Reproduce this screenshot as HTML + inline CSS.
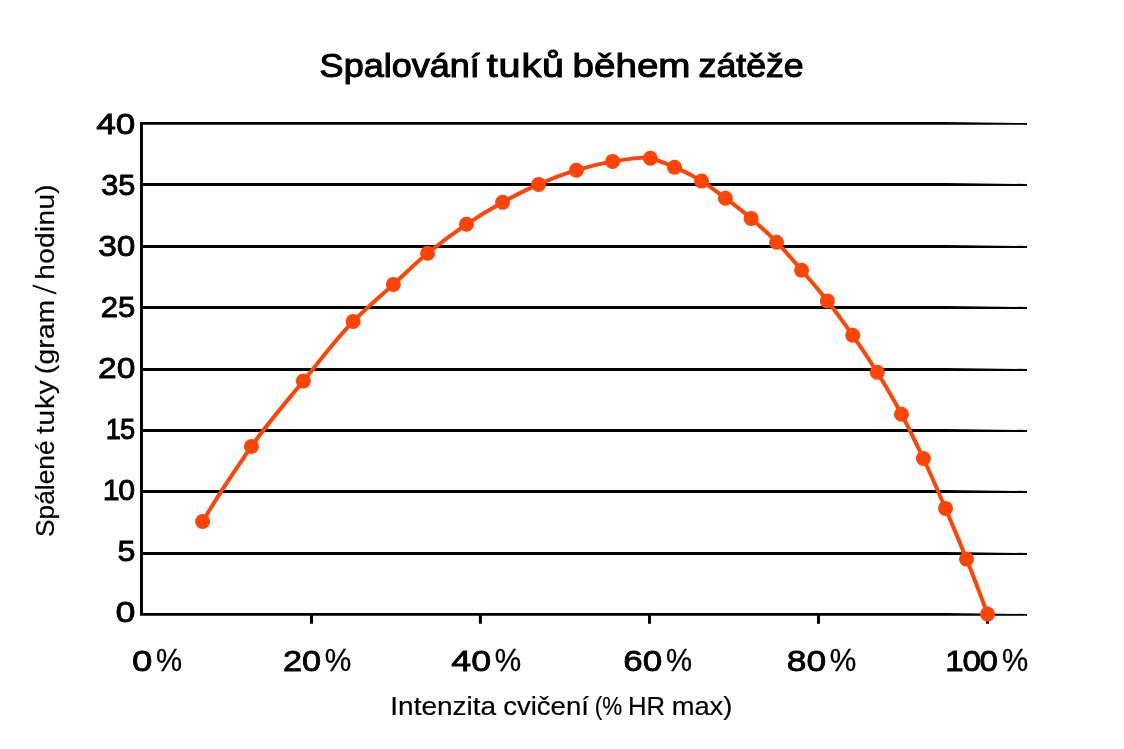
<!DOCTYPE html>
<html lang="cs"><head><meta charset="utf-8"><title>Spalování tuků během zátěže</title>
<style>
html,body{margin:0;padding:0;background:#fff}
svg{display:block}
text{font-family:"Liberation Sans",sans-serif;white-space:pre}
</style></head><body>
<svg width="1124" height="749" viewBox="0 0 1124 749">
<rect width="1124" height="749" fill="#fff"/>
<path fill="#000" d="M140.0 122.0H945.0L1027.0 123.05V124.85H140.0ZM140.0 182.95H945.0L1027.0 184.00V186.0H140.0ZM140.0 244.95H945.0L1027.0 246.00V248.0H140.0ZM140.0 305.95H945.0L1027.0 307.00V309.0H140.0ZM140.0 367.95H945.0L1027.0 369.00V371.0H140.0ZM140.0 428.95H945.0L1027.0 430.00V432.0H140.0ZM140.0 489.95H945.0L1027.0 491.00V493.0H140.0ZM140.0 551.95H945.0L1027.0 553.00V555.0H140.0ZM140.0 612.95H945.0L1027.0 614.00V615.8H140.0ZM140.0 122.0H142.95V615.8H140.0ZM310.00 614.80h3V623.8h-3ZM478.90 614.80h3V623.8h-3ZM648.00 614.80h3V623.8h-3ZM817.00 614.80h3V623.8h-3ZM986.00 614.80h3V623.8h-3Z"/>
<path fill="none" stroke="#ff4405" stroke-width="4.0" stroke-linecap="round" stroke-linejoin="round" d="M202.6 521.5C208.4 511.9 214.3 502.3 220.3 492.9C226.3 483.5 232.6 474.3 238.8 465.0C243.0 458.8 247.1 452.5 251.4 446.4C267.4 423.6 285.8 402.6 303.4 381.0C319.8 360.9 335.2 339.9 353.2 321.4C365.9 308.4 380.0 296.7 393.4 284.4C404.8 274.0 415.7 263.1 427.6 253.3C440.1 243.0 453.1 233.3 466.5 224.3C478.2 216.4 490.3 209.0 502.6 202.2C514.3 195.8 526.3 189.7 538.6 184.4C550.9 179.0 563.6 174.1 576.4 170.2C588.3 166.6 600.4 163.6 612.6 161.4C625.1 159.2 637.8 157.7 650.5 157.0M650.4 158.3C658.6 160.5 666.7 163.8 674.5 167.2C683.8 171.2 693.0 175.8 701.6 181.1C709.9 186.2 717.6 192.3 725.4 198.2C734.1 204.7 742.8 211.3 751.1 218.4C759.9 225.9 768.5 233.9 776.6 242.2C785.4 251.1 793.4 260.7 801.6 270.2C810.4 280.3 819.1 290.4 827.4 300.9C836.2 312.1 844.5 323.6 852.7 335.3C861.2 347.4 869.4 359.7 877.2 372.3C885.7 386.0 893.9 400.0 901.5 414.2C909.3 428.7 916.4 443.6 923.4 458.5C931.1 475.0 938.3 491.7 945.5 508.4C952.7 525.2 959.7 542.1 966.5 559.1C973.8 577.3 980.7 595.6 987.5 614.0"/>
<g fill="#ff4405"><circle cx="202.6" cy="521.5" r="7.5"/><circle cx="251.4" cy="446.4" r="7.5"/><circle cx="303.4" cy="381.0" r="7.5"/><circle cx="353.2" cy="321.4" r="7.5"/><circle cx="393.4" cy="284.4" r="7.5"/><circle cx="427.6" cy="253.3" r="7.5"/><circle cx="466.5" cy="224.3" r="7.5"/><circle cx="502.6" cy="202.2" r="7.5"/><circle cx="538.6" cy="184.4" r="7.5"/><circle cx="576.4" cy="170.2" r="7.5"/><circle cx="612.6" cy="161.4" r="7.5"/><circle cx="650.4" cy="158.3" r="7.5"/><circle cx="674.5" cy="167.2" r="7.5"/><circle cx="701.6" cy="181.1" r="7.5"/><circle cx="725.4" cy="198.2" r="7.5"/><circle cx="751.1" cy="218.4" r="7.5"/><circle cx="776.6" cy="242.2" r="7.5"/><circle cx="801.6" cy="270.2" r="7.5"/><circle cx="827.4" cy="300.9" r="7.5"/><circle cx="852.7" cy="335.3" r="7.5"/><circle cx="877.2" cy="372.3" r="7.5"/><circle cx="901.5" cy="414.2" r="7.5"/><circle cx="923.4" cy="458.5" r="7.5"/><circle cx="945.5" cy="508.4" r="7.5"/><circle cx="966.5" cy="559.1" r="7.5"/><circle cx="987.5" cy="614.0" r="7.5"/></g>
<g>
<text transform="translate(319.61 76.53) scale(1.0952 1)" font-size="32.91" font-weight="400" fill="#000" stroke="#000" stroke-width="1.1" stroke-linejoin="miter" vector-effect="non-scaling-stroke">Spalování</text>
<text transform="translate(486.75 76.53) scale(1.2000 1)" font-size="32.91" font-weight="400" fill="#000" stroke="#000" stroke-width="1.1" stroke-linejoin="miter" vector-effect="non-scaling-stroke" letter-spacing="0.715">tuků</text>
<text transform="translate(572.56 76.53) scale(1.1719 1)" font-size="32.91" font-weight="400" fill="#000" stroke="#000" stroke-width="1.1" stroke-linejoin="miter" vector-effect="non-scaling-stroke">během</text>
<text transform="translate(698.60 76.53) scale(1.0843 1)" font-size="32.91" font-weight="400" fill="#000" stroke="#000" stroke-width="1.1" stroke-linejoin="miter" vector-effect="non-scaling-stroke">zátěže</text>
<text transform="translate(96.34 133.56) scale(1.1885 1)" font-size="29.52" font-weight="400" fill="#000" stroke="#000" stroke-width="0.9" stroke-linejoin="miter" vector-effect="non-scaling-stroke">40</text>
<text transform="translate(101.18 194.56) scale(1.0387 1)" font-size="29.52" font-weight="400" fill="#000" stroke="#000" stroke-width="0.9" stroke-linejoin="miter" vector-effect="non-scaling-stroke">35</text>
<text transform="translate(98.18 255.56) scale(1.1306 1)" font-size="29.52" font-weight="400" fill="#000" stroke="#000" stroke-width="0.9" stroke-linejoin="miter" vector-effect="non-scaling-stroke">30</text>
<text transform="translate(100.79 316.56) scale(1.0511 1)" font-size="29.52" font-weight="400" fill="#000" stroke="#000" stroke-width="0.9" stroke-linejoin="miter" vector-effect="non-scaling-stroke">25</text>
<text transform="translate(98.07 377.56) scale(1.1342 1)" font-size="29.52" font-weight="400" fill="#000" stroke="#000" stroke-width="0.9" stroke-linejoin="miter" vector-effect="non-scaling-stroke">20</text>
<text transform="translate(105.87 438.56) scale(0.9255 1)" font-size="29.52" font-weight="400" fill="#000" stroke="#000" stroke-width="0.9" stroke-linejoin="miter" vector-effect="non-scaling-stroke" letter-spacing="-1.200">15</text>
<text transform="translate(102.74 499.56) scale(1.0254 1)" font-size="29.52" font-weight="400" fill="#000" stroke="#000" stroke-width="0.9" stroke-linejoin="miter" vector-effect="non-scaling-stroke" letter-spacing="-1.200">10</text>
<text transform="translate(117.46 560.56) scale(1.0896 1)" font-size="29.52" font-weight="400" fill="#000" stroke="#000" stroke-width="0.9" stroke-linejoin="miter" vector-effect="non-scaling-stroke">5</text>
<text transform="translate(115.45 621.56) scale(1.2153 1)" font-size="29.52" font-weight="400" fill="#000" stroke="#000" stroke-width="0.9" stroke-linejoin="miter" vector-effect="non-scaling-stroke">0</text>
<text transform="translate(131.92 670.66) scale(1.2227 1)" font-size="29.94" font-weight="400" fill="#000" stroke="#000" stroke-width="0.9" stroke-linejoin="miter" vector-effect="non-scaling-stroke">0</text>
<text transform="translate(156.10 670.87) scale(0.9640 1)" font-size="30.44" font-weight="400" fill="#000" stroke="#000" stroke-width="0.3" stroke-linejoin="miter" vector-effect="non-scaling-stroke">%</text>
<text transform="translate(282.92 670.66) scale(1.1460 1)" font-size="29.94" font-weight="400" fill="#000" stroke="#000" stroke-width="0.9" stroke-linejoin="miter" vector-effect="non-scaling-stroke">20</text>
<text transform="translate(324.69 670.87) scale(0.9801 1)" font-size="30.44" font-weight="400" fill="#000" stroke="#000" stroke-width="0.3" stroke-linejoin="miter" vector-effect="non-scaling-stroke">%</text>
<text transform="translate(451.33 670.66) scale(1.1957 1)" font-size="29.94" font-weight="400" fill="#000" stroke="#000" stroke-width="0.9" stroke-linejoin="miter" vector-effect="non-scaling-stroke">40</text>
<text transform="translate(494.69 670.87) scale(0.9761 1)" font-size="30.44" font-weight="400" fill="#000" stroke="#000" stroke-width="0.3" stroke-linejoin="miter" vector-effect="non-scaling-stroke">%</text>
<text transform="translate(623.28 670.66) scale(1.1662 1)" font-size="29.94" font-weight="400" fill="#000" stroke="#000" stroke-width="0.9" stroke-linejoin="miter" vector-effect="non-scaling-stroke">60</text>
<text transform="translate(666.00 670.87) scale(0.9640 1)" font-size="30.44" font-weight="400" fill="#000" stroke="#000" stroke-width="0.3" stroke-linejoin="miter" vector-effect="non-scaling-stroke">%</text>
<text transform="translate(786.71 670.66) scale(1.1838 1)" font-size="29.94" font-weight="400" fill="#000" stroke="#000" stroke-width="0.9" stroke-linejoin="miter" vector-effect="non-scaling-stroke">80</text>
<text transform="translate(829.69 670.87) scale(0.9801 1)" font-size="30.44" font-weight="400" fill="#000" stroke="#000" stroke-width="0.3" stroke-linejoin="miter" vector-effect="non-scaling-stroke">%</text>
<text transform="translate(945.32 670.66) scale(1.1088 1)" font-size="29.94" font-weight="400" fill="#000" stroke="#000" stroke-width="0.9" stroke-linejoin="miter" vector-effect="non-scaling-stroke" letter-spacing="-1.200">100</text>
<text transform="translate(1001.90 670.87) scale(0.9680 1)" font-size="30.44" font-weight="400" fill="#000" stroke="#000" stroke-width="0.3" stroke-linejoin="miter" vector-effect="non-scaling-stroke">%</text>
<text transform="translate(390.32 714.90) scale(1.1000 1)" font-size="25.44" font-weight="400" fill="#000" stroke="#000" stroke-width="0.2" stroke-linejoin="miter" vector-effect="non-scaling-stroke">Intenzita</text>
<text transform="translate(503.13 714.90) scale(1.0837 1)" font-size="25.44" font-weight="400" fill="#000" stroke="#000" stroke-width="0.2" stroke-linejoin="miter" vector-effect="non-scaling-stroke">cvičení</text>
<text transform="translate(594.71 714.90) scale(0.8809 1)" font-size="25.44" font-weight="400" fill="#000" stroke="#000" stroke-width="0.2" stroke-linejoin="miter" vector-effect="non-scaling-stroke">(%</text>
<text transform="translate(627.99 714.90) scale(1.0096 1)" font-size="25.44" font-weight="400" fill="#000" stroke="#000" stroke-width="0.2" stroke-linejoin="miter" vector-effect="non-scaling-stroke">HR</text>
<text transform="translate(671.69 714.90) scale(1.0739 1)" font-size="25.44" font-weight="400" fill="#000" stroke="#000" stroke-width="0.2" stroke-linejoin="miter" vector-effect="non-scaling-stroke">max)</text>
<text transform="translate(53.90 536.99) rotate(-90) scale(1.0343 1)" font-size="25.44" font-weight="400" fill="#000" stroke="#000" stroke-width="0.2" stroke-linejoin="miter" vector-effect="non-scaling-stroke">Spálené</text>
<text transform="translate(53.90 434.02) rotate(-90) scale(1.1000 1)" font-size="25.44" font-weight="400" fill="#000" stroke="#000" stroke-width="0.2" stroke-linejoin="miter" vector-effect="non-scaling-stroke" letter-spacing="0.744">tuky</text>
<text transform="translate(53.90 374.14) rotate(-90) scale(1.1000 1)" font-size="25.44" font-weight="400" fill="#000" stroke="#000" stroke-width="0.2" stroke-linejoin="miter" vector-effect="non-scaling-stroke" letter-spacing="0.274">(gram</text>
<text transform="translate(55.83 294.40) rotate(-90) scale(1.03 1.265) skewX(-8)" font-size="25.44" font-weight="400" fill="#000">/</text>
<text transform="translate(53.90 279.74) rotate(-90) scale(1.1000 1)" font-size="25.44" font-weight="400" fill="#000" stroke="#000" stroke-width="0.2" stroke-linejoin="miter" vector-effect="non-scaling-stroke" letter-spacing="0.306">hodinu)</text>
</g>
</svg>
</body></html>
